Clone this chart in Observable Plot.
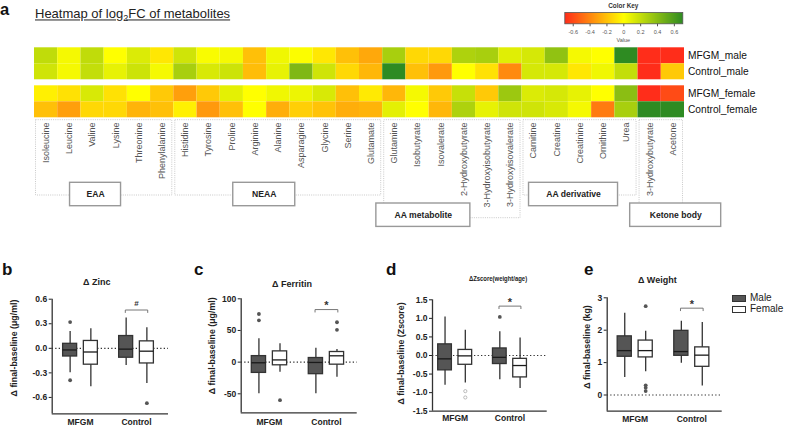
<!DOCTYPE html>
<html><head><meta charset="utf-8">
<script src="https://cdn.jsdelivr.net/npm/d3@7"></script>
<script src="https://cdn.jsdelivr.net/npm/@observablehq/plot@0.6"></script>
<style>
body{margin:0;background:#fff;}
#fig{position:relative;width:791px;height:426px;overflow:hidden;background:#fff;font-family:"Liberation Sans",Arial,sans-serif;color:#222;}
.abs{position:absolute;}
.t{position:absolute;white-space:nowrap;line-height:1;}
</style></head><body><div id="fig"></div>
<script>
// ---------- DATA ----------
const metabolites = ["Isoleucine","Leucine","Valine","Lysine","Threonine","Phenylalanine",
  "Histidine","Tyrosine","Proline","Arginine","Alanine","Asparagine","Glycine","Serine","Glutamate",
  "Glutamine","Isobutyrate","Isovalerate","2-Hydroxybutyrate","3-Hydroxyisobutyrate","3-Hydroxyisovalerate",
  "Carnitine","Creatine","Creatinine","Ornithine","Urea",
  "3-Hydroxybutyrate","Acetone"];
const metaboliteGroups = ["EAA","NEAA","AA metabolite","AA derivative","Ketone body"];
const groupSizes = [6,9,6,5,2];
const groupLevels = [0,0,1,0,1];
const heatTreatments = ["MFGM","Control"];
const heatSexes = ["male","female"];
const fcMFGMMale = [0.21,0.035,0.21,0,0.12,-0.08,0.16,0.02,0.035,-0.21,0.05,0.01,-0.08,-0.21,-0.29,0.29,-0.13,-0.13,0.27,0.29,0.105,0.14,0.37,0.035,0,0.7,-0.7,-0.7];
const fcControlMale = [0.16,0.035,0.2,0.08,0.17,0.035,0.29,0.13,0.17,-0.22,0.08,0.43,0.16,-0.13,-0.24,0.7,-0.21,-0.34,0,-0.1,-0.39,0.14,0.14,-0.08,0.05,0.2,-0.7,-0.18];
const fcMFGMFemale = [-0.05,-0.1,0.13,-0.1,0,-0.18,-0.32,-0.18,0.09,0,0.05,0.06,0.13,-0.21,-0.07,-0.24,0.035,-0.18,0.19,-0.18,0.33,0.12,0.14,0.08,0,0.39,-0.7,-0.6];
const fcControlFemale = [-0.21,-0.32,-0.13,-0.13,-0.25,-0.21,-0.05,-0.34,-0.21,0,-0.27,-0.16,-0.2,-0.27,-0.25,0.09,0,-0.24,0.27,0.08,0.16,0.16,0.13,0.035,-0.44,0.29,0.7,0.7];
const colorKeyTicks = [-0.6,-0.4,-0.2,0,0.2,0.4,0.6];

const boxGroupNames = ["MFGM","Control"];
const boxGroups = ["MFGM","MFGM","Control","Control"];
const boxSexes = ["Male","Female","Male","Female"];
// [lower whisker, Q1, median, Q3, upper whisker]
const zincStats = [[-0.30,-0.10,-0.02,0.055,0.205],[-0.47,-0.20,-0.045,0.09,0.24],[-0.21,-0.115,-0.01,0.15,0.37],[-0.43,-0.185,-0.035,0.085,0.25]];
const zincOutliers = [["MFGM","Male",0.32],["MFGM","Male",-0.39],["Control","Female",-0.67]];
const ferritinStats = [[-50,-17,-1,9.5,37],[-16,-5,3.5,17,29],[-50,-19,-0.5,6.5,22],[-24,-4,10,16,20]];
const ferritinOutliers = [["MFGM","Male",76],["MFGM","Male",66],["MFGM","Female",-60],["Control","Female",63],["Control","Female",51]];
const zscoreStats = [[-0.80,-0.40,-0.09,0.30,1.04],[-0.74,-0.25,-0.01,0.15,0.68],[-0.65,-0.23,-0.05,0.19,0.64],[-0.89,-0.59,-0.27,-0.09,0.47]];
const zscoreOutliers = [["Control","Male",1.04]];
const zscoreOpenOutliers = [["MFGM","Female",-0.96],["MFGM","Female",-1.13]];
const weightStats = [[0.54,1.18,1.37,1.81,2.52],[0.72,1.16,1.37,1.68,1.97],[0.98,1.21,1.34,1.98,2.28],[0.28,0.87,1.23,1.47,2.24]];
const weightOutliers = [["MFGM","Female",2.74],["MFGM","Female",0.30],["MFGM","Female",0.22],["MFGM","Female",0.12]];
const panelTitles = ["Δ Zinc","Δ Ferritin","ΔZscore(weight/age)","Δ Weight"];
const panelYLabels = ["Δ final-baseline (μg/ml)","Δ final-baseline (μg/ml)","Δ final-baseline (Zscore)","Δ final-baseline (kg)"];
const sigLabels = ["#","*","*","*"];
const sigBracketY = [0.468,83,1.33,2.68];

// ---------- LAYOUT ----------
const fig = document.getElementById("fig");
const FONT = "Liberation Sans, Arial, sans-serif";
function place(svg, x, y, w) {
  const d = document.createElement("div"); d.className = "abs";
  d.style.left = x + "px"; d.style.top = y + "px"; d.style.width = w + "px";
  d.appendChild(svg); fig.appendChild(d);
}
function addText(html, x, y, o = {}) {
  const d = document.createElement("div"); d.className = "t"; d.innerHTML = html;
  d.style.left = x + "px"; d.style.top = y + "px";
  d.style.fontSize = (o.size || 9) + "px"; d.style.fontWeight = o.weight || "normal";
  d.style.color = o.color || "#222";
  const tx = o.anchor === "middle" ? "-50%" : o.anchor === "end" ? "-100%" : "0";
  d.style.transform = `translate(${tx},-50%)` + (o.scaleX ? ` scaleX(${o.scaleX})` : "");
  fig.appendChild(d); return d;
}

const colorOpts = {type: "linear", domain: [-0.7, 0, 0.7], range: ["#ff2d1a", "#ffff00", "#2e8b22"], interpolate: "rgb", clamp: true};

// ---------- HEATMAP ----------
const heatRows = [
  {treat: "MFGM", sex: "male", values: fcMFGMMale},
  {treat: "Control", sex: "male", values: fcControlMale},
  {treat: "MFGM", sex: "female", values: fcMFGMFemale},
  {treat: "Control", sex: "female", values: fcControlFemale}
];
const cells = heatRows.flatMap(r => r.values.map((v, i) => ({i, i2: i + 1, treat: r.treat, sex: r.sex, v})));
const rowLabels = heatRows.map(r => ({treat: r.treat, sex: r.sex, label: r.treat + "_" + r.sex}));

const heat = Plot.plot({
  width: 791, height: 80, marginLeft: 34, marginRight: 107, marginTop: 6.7, marginBottom: 2.3,
  style: {background: "transparent", fontFamily: FONT, overflow: "visible"},
  x: {domain: [0, metabolites.length], axis: null},
  y: {domain: heatTreatments, axis: null, padding: 0},
  fy: {domain: heatSexes, axis: null, paddingInner: 0.14, paddingOuter: 0},
  color: colorOpts,
  marks: [
    Plot.barX(cells, {x1: "i", x2: "i2", y: "treat", fy: "sex", fill: "v"}),
    Plot.text(rowLabels, {fy: "sex", y: "treat", text: "label", frameAnchor: "right", textAnchor: "start", dx: 3.5, fontSize: 10.2, fill: "#111"})
  ]
});
place(heat, 0, 40, 791);

// labels + group boxes
const colW = 650 / metabolites.length;
const groupBoxLayout = {"EAA": {dxPx: -8.6, wPx: 51}, "NEAA": {dxPx: -14, wPx: 62}, "AA metabolite": {dxPx: -29, wPx: 94}, "AA derivative": {dxPx: -6.5, wPx: 89}, "Ketone body": {dxPx: 14.4, wPx: 91}};
let acc = 0;
const groupsData = metaboliteGroups.map((g, k) => {
  const start = acc; acc += groupSizes[k];
  const L = groupBoxLayout[g];
  const c = (start + acc) / 2 + L.dxPx / colW;
  const cy = groupLevels[k] ? 96.7 : 76;
  return {name: g, start, end: acc, c, x1: c - L.wPx / 2 / colW, x2: c + L.wPx / 2 / colW, cy, bottom: groupLevels[k] ? 99.7 : 77};
});
const metabData = metabolites.map((name, i) => ({name, xc: i + 0.5}));
const labels = Plot.plot({
  width: 791, height: 117, marginLeft: 34, marginRight: 107, marginTop: 0, marginBottom: 0,
  style: {background: "transparent", fontFamily: FONT, overflow: "visible"},
  x: {domain: [0, metabolites.length], axis: null},
  y: {domain: [0, 117], range: [0, 117], axis: null},
  marks: [
    Plot.rect(groupsData, {x1: "start", x2: "end", y1: 1.7, y2: "bottom", insetLeft: 1.5, insetRight: 1.5, fill: "none", stroke: "#bbb", strokeWidth: 0.8, strokeDasharray: "1,1.2"}),
    Plot.text(metabData, {x: "xc", y: 4, text: "name", rotate: -90, textAnchor: "end", fontSize: 9, fill: "#555"}),
    Plot.rect(groupsData, {x1: "x1", x2: "x2", y1: d => d.cy - 11.7, y2: d => d.cy + 11.7, fill: "white", stroke: "#999", strokeWidth: 1.4}),
    Plot.text(groupsData, {x: "c", y: "cy", text: "name", fontSize: 8.6, fontWeight: "bold", fill: "#222"})
  ]
});
place(labels, 0, 118, 791);

// color key
const key = Plot.plot({
  width: 137, height: 30, marginLeft: 9.3, marginRight: 9.7, marginTop: 4, marginBottom: 14.7,
  style: {background: "transparent", fontFamily: FONT, fontSize: "5.5px", color: "#555", overflow: "visible"},
  x: {domain: [-0.7, 0.7], ticks: colorKeyTicks, tickFormat: d => String(d), tickSize: 3, tickPadding: 3.5, label: null},
  y: {domain: [0, 1], axis: null},
  color: colorOpts,
  marks: [
    Plot.raster({fill: (x, y) => x, x1: -0.7, x2: 0.7, y1: 0, y2: 1}),
    Plot.frame({stroke: "#555", strokeWidth: 0.8})
  ]
});
place(key, 555, 8, 137);
addText("Color Key", 623.3, 6, {size: 6.4, weight: "bold", anchor: "middle", color: "#333"});
addText("Value", 623.3, 40.7, {size: 5.5, anchor: "middle", color: "#555"});

// titles / letters
addText("a", 0, 8.5, {size: 16.5, weight: "bold", color: "#111"});
addText('<u>Heatmap of log<span style="font-size:0.7em;position:relative;top:0.3em">2</span>FC of metabolites</u>', 35, 14.2, {size: 13, color: "#222"});

// ---------- BOX PANELS ----------
const H = 138, TOP = 288;
const panelCfg = [
  {letter: "b", lx: 2, left: 0, width: 175, mL: 51.7, mR: 7, mT: 10.7, mB: 12.7, xDomain: [-0.505, 1.571], yDomain: [-0.8, 0.6], yTicks: [-0.6, -0.3, 0, 0.3, 0.6], fmt: d => d.toFixed(1), padX: 5, ylDx: -38.4, ylDy: -8.5, tx: 96.7, ty: 282},
  {letter: "c", lx: 194, left: 190, width: 172, mL: 50.7, mR: 5.3, mT: 10.3, mB: 13.7, xDomain: [-0.496, 1.54], yDomain: [-80, 100], yTicks: [-50, 0, 50, 100], fmt: d => String(d), padX: 6, ylDx: -29, ylDy: -10, tx: 292, ty: 283.7},
  {letter: "d", lx: 386, left: 380, width: 172, mL: 52, mR: 5.3, mT: 11.3, mB: 15.3, xDomain: [-0.414, 1.68], yDomain: [-1.5, 1.5], yTicks: [-1.5, -1, -0.5, 0, 0.5, 1, 1.5], fmt: d => d.toFixed(1), padX: 4, ylDx: -31.3, ylDy: -2, tx: 498.3, ty: 279, scaleX: 0.74},
  {letter: "e", lx: 584, left: 570, width: 160, mL: 36.7, mR: 8.3, mT: 9.3, mB: 15.3, xDomain: [-0.495, 1.537], yDomain: [-0.5, 3], yTicks: [0, 1, 2, 3], fmt: d => String(d), padX: 5, ylDx: -20, ylDy: -7.5, tx: 657.3, ty: 279.7}
];
const panelStats = [zincStats, ferritinStats, zscoreStats, weightStats];
const panelOutliers = [zincOutliers, ferritinOutliers, zscoreOutliers, weightOutliers];
const panelOpenOutliers = [[], [], zscoreOpenOutliers, []];
const SEX_OFF = 0.185, HW = 0.125;
const xPos = (g, s) => boxGroupNames.indexOf(g) + (s === "Male" ? -SEX_OFF : SEX_OFF);

panelCfg.forEach((cfg, p) => {
  const rows = panelStats[p].map((s, i) => ({sex: boxSexes[i], x: xPos(boxGroups[i], boxSexes[i]), lo: s[0], q1: s[1], med: s[2], q3: s[3], hi: s[4]}));
  const outs = panelOutliers[p].map(([g, s, v]) => ({x: xPos(g, s), y: v}));
  const opens = panelOpenOutliers[p].map(([g, s, v]) => ({x: xPos(g, s), y: v}));
  const pxPerUnit = (H - cfg.mT - cfg.mB) / (cfg.yDomain[1] - cfg.yDomain[0]);
  const by = sigBracketY[p], dl = 2.5 / pxPerUnit;
  const bracket = [{x: 1 - 0.2, y: by - dl}, {x: 1 - 0.2, y: by}, {x: 1 + 0.2, y: by}, {x: 1 + 0.2, y: by - dl}];
  const isHash = sigLabels[p] === "#";
  const svg = Plot.plot({
    width: cfg.width, height: H, marginLeft: cfg.mL, marginRight: cfg.mR, marginTop: cfg.mT, marginBottom: cfg.mB,
    style: {background: "transparent", fontFamily: FONT, fontSize: "8.5px", fontWeight: "bold", color: "#222", overflow: "visible"},
    x: {domain: cfg.xDomain, ticks: [0, 1], tickFormat: i => boxGroupNames[i], tickSize: 0, tickPadding: cfg.padX, label: null},
    y: {domain: cfg.yDomain, ticks: cfg.yTicks, tickFormat: cfg.fmt, tickSize: 3, tickPadding: 2, label: null},
    marks: [
      Plot.ruleY([0], {stroke: "#333", strokeWidth: 1.2, strokeDasharray: "1.3,2.2"}),
      Plot.ruleX(rows, {x: "x", y1: "lo", y2: "hi", stroke: "#333", strokeWidth: 1.3}),
      Plot.rect(rows.filter(d => d.sex === "Male"), {x1: d => d.x - HW, x2: d => d.x + HW, y1: "q1", y2: "q3", fill: "#555", stroke: "#333", strokeWidth: 1.3}),
      Plot.rect(rows.filter(d => d.sex === "Female"), {x1: d => d.x - HW, x2: d => d.x + HW, y1: "q1", y2: "q3", fill: "white", stroke: "#333", strokeWidth: 1.3}),
      Plot.ruleY(rows, {y: "med", x1: d => d.x - HW, x2: d => d.x + HW, stroke: "#1a1a1a", strokeWidth: 1.3}),
      Plot.dot(outs, {x: "x", y: "y", r: 1.9, fill: "#555"}),
      Plot.dot(opens, {x: "x", y: "y", r: 1.6, fill: "white", stroke: "#aaa", strokeWidth: 0.8}),
      Plot.ruleX([cfg.xDomain[0]], {stroke: "#333", strokeWidth: 1.3}),
      Plot.ruleY([cfg.yDomain[0]], {stroke: "#333", strokeWidth: 1.3}),
      Plot.line(bracket, {x: "x", y: "y", stroke: "#777", strokeWidth: 1}),
      Plot.text([sigLabels[p]], {x: 1, y: by, text: d => d, dy: isHash ? -7 : -4, fontSize: isHash ? 8 : 11, fill: "#333"}),
      Plot.text([panelYLabels[p]], {text: d => d, frameAnchor: "left", textAnchor: "middle", rotate: -90, dx: cfg.ylDx, dy: cfg.ylDy, fontSize: 8.8, fill: "#222"})
    ]
  });
  place(svg, cfg.left, TOP, cfg.width);
  addText(cfg.letter, cfg.lx, 269.4, {size: 17, weight: "bold", color: "#111"});
  addText(panelTitles[p], cfg.tx, cfg.ty, {size: cfg.scaleX ? 8 : 9, weight: "bold", anchor: "middle", color: "#222", scaleX: cfg.scaleX});
});

// legend
[["Male", "#555", 297.8], ["Female", "#fff", 309]].forEach(([lab, fill, cy]) => {
  const sw = document.createElement("div"); sw.className = "abs";
  Object.assign(sw.style, {left: "731.7px", top: (cy - 3.3) + "px", width: "12px", height: "5px", background: fill, border: "1.3px solid #333"});
  fig.appendChild(sw);
  addText(lab, 750, cy, {size: 10, color: "#222"});
});
</script></body></html>
